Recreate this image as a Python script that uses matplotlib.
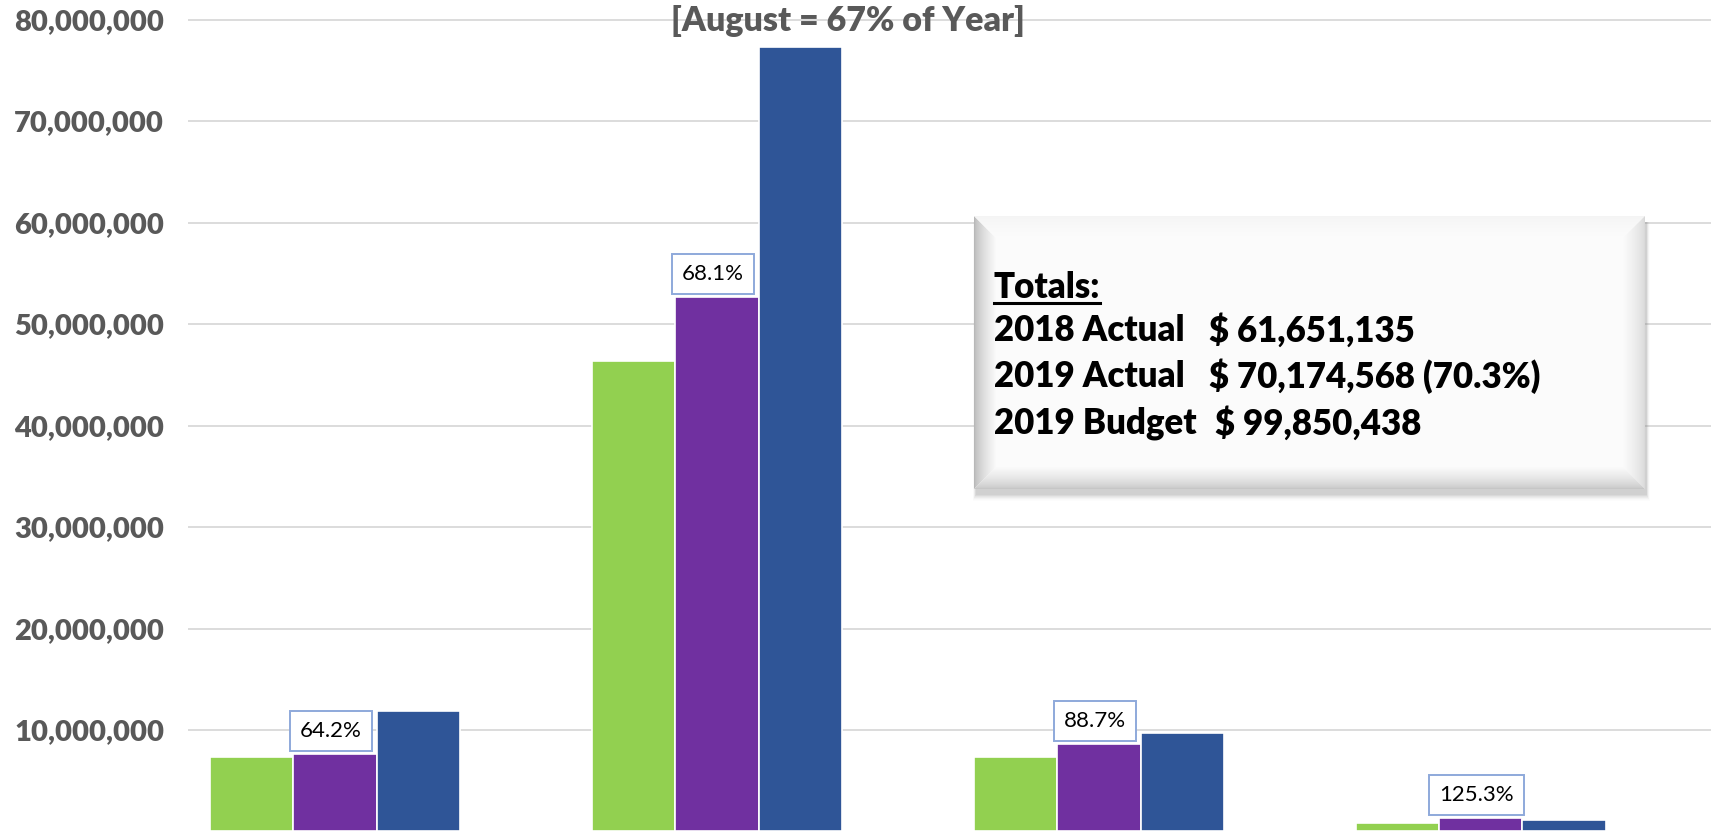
import matplotlib
matplotlib.use("Agg")
import matplotlib.pyplot as plt
import numpy as np
from matplotlib.patches import Polygon, Rectangle
from matplotlib.ticker import FuncFormatter

# values
actual_2018 = [7.32e6, 46.4e6, 7.30e6, 0.80e6]
actual_2019 = [7.64e6, 52.7e6, 8.62e6, 1.36e6]
budget_2019 = [11.85e6, 77.3e6, 9.72e6, 1.09e6]
pct_labels = ["64.2%", "68.1%", "88.7%", "125.3%"]
y_ticks = [10e6, 20e6, 30e6, 40e6, 50e6, 60e6, 70e6, 80e6]
title = "[August = 67% of Year]"
totals_head = "Totals:"
totals_names = ["2018 Actual", "2019 Actual", "2019 Budget"]
totals_values = ["$ 61,651,135", "$ 70,174,568 (70.3%)", "$ 99,850,438"]

GREEN, PURPLE, BLUE = "#92D050", "#7030A0", "#2F5597"
GRAY = "#595959"
FONT = ["Lato", "DejaVu Sans"]

W, H = 1711, 833
fig = plt.figure(figsize=(W / 100, H / 100), dpi=100)
ax = fig.add_axes([172 / 1568, 0, 1 - 172 / 1568, 1])

x = np.arange(len(actual_2018))
bw = 0.2186
ax.bar(x - bw, actual_2018, bw, color=GREEN, edgecolor="white", linewidth=1.2, zorder=3)
ax.bar(x, actual_2019, bw, color=PURPLE, edgecolor="white", linewidth=1.2, zorder=3)
ax.bar(x + bw, budget_2019, bw, color=BLUE, edgecolor="white", linewidth=1.2, zorder=3)

for xi, v, lab in zip(x, actual_2019, pct_labels):
    ax.annotate(lab, (xi, v), xytext=(-3, 9), textcoords="offset points",
                ha="center", va="bottom", fontsize=16, family=FONT, color="black", zorder=5,
                bbox=dict(boxstyle="square,pad=0.45", fc="white", ec="#8EA9DB", lw=1.4))

ax.set_xlim(-0.386, 3.603)
ax.set_ylim(-0.15e6, 81.93e6)
ax.set_yticks(y_ticks)
ax.yaxis.set_major_formatter(FuncFormatter(lambda v, p: f"{v:,.0f}"))
ax.set_xticks([])
ax.tick_params(axis="y", length=0, pad=17, labelsize=21, labelcolor=GRAY)
for t in ax.get_yticklabels():
    t.set_family(FONT)
    t.set_fontweight("heavy")
ax.grid(axis="y", color="#D9D9D9", linewidth=1.3, zorder=0)
for s in ax.spines.values():
    s.set_visible(False)

fig.text(777 / 1568, 1 - 19 / 763, title, ha="center", va="center", fontsize=24.5,
         fontweight="heavy", color=GRAY, family=FONT)

# overlay in pixel coordinates for the totals box
ov = fig.add_axes([0, 0, 1, 1], zorder=10)
ov.set_xlim(0, W)
ov.set_ylim(H, 0)
ov.axis("off")
ov.patch.set_alpha(0)

x0, y0, x1, y1 = 974, 216, 1645, 489
# shadow
for k in range(7):
    a = 0.10 * (1 - k / 7)
    ov.add_patch(Rectangle((x0 + 2 - k * 0.5, y0 + 6), x1 - x0 + k, y1 - y0 + k, fc="#7f7f7f", ec="none", alpha=a))
ov.add_patch(Rectangle((x0, y0), x1 - x0, y1 - y0, fc="#fbfbfb", ec="none"))


def lerp(c1, c2, t):
    a = np.array(matplotlib.colors.to_rgb(c1))
    b = np.array(matplotlib.colors.to_rgb(c2))
    return a + (b - a) * t


depth = 22
sides = {"left": "#b8b8b8", "top": "#f4f4f4", "right": "#d9d9d9", "bottom": "#c6c6c6"}
inner = "#fbfbfb"
for j in range(depth):
    d0, d1 = j, j + 1
    t = j / depth
    pts = {
        "left": [(x0 + d0, y0 + d0), (x0 + d1, y0 + d1), (x0 + d1, y1 - d1), (x0 + d0, y1 - d0)],
        "right": [(x1 - d0, y0 + d0), (x1 - d1, y0 + d1), (x1 - d1, y1 - d1), (x1 - d0, y1 - d0)],
        "top": [(x0 + d0, y0 + d0), (x1 - d0, y0 + d0), (x1 - d1, y0 + d1), (x0 + d1, y0 + d1)],
        "bottom": [(x0 + d0, y1 - d0), (x1 - d0, y1 - d0), (x1 - d1, y1 - d1), (x0 + d1, y1 - d1)],
    }
    for side, c in sides.items():
        ov.add_patch(Polygon(pts[side], closed=True, fc=lerp(c, inner, t ** 0.7), ec="none"))

fs = 25
head = ov.text(994, 287, totals_head, ha="left", va="center", fontsize=fs, fontweight="heavy",
               color="black", family=FONT)
rows_y = [330, 376, 423]
val_x = [1209, 1209, 1215]
for name, val, yy, vx in zip(totals_names, totals_values, rows_y, val_x):
    ov.text(994, yy, name, ha="left", va="center", fontsize=fs, fontweight="heavy", color="black", family=FONT)
    ov.text(vx, yy, val, ha="left", va="center", fontsize=fs, fontweight="heavy", color="black", family=FONT)

fig.canvas.draw()
bb = head.get_window_extent()
ov.plot([bb.x0, bb.x1], [303, 303], color="black", lw=2.2)

fig.savefig("out.png", dpi=100)
